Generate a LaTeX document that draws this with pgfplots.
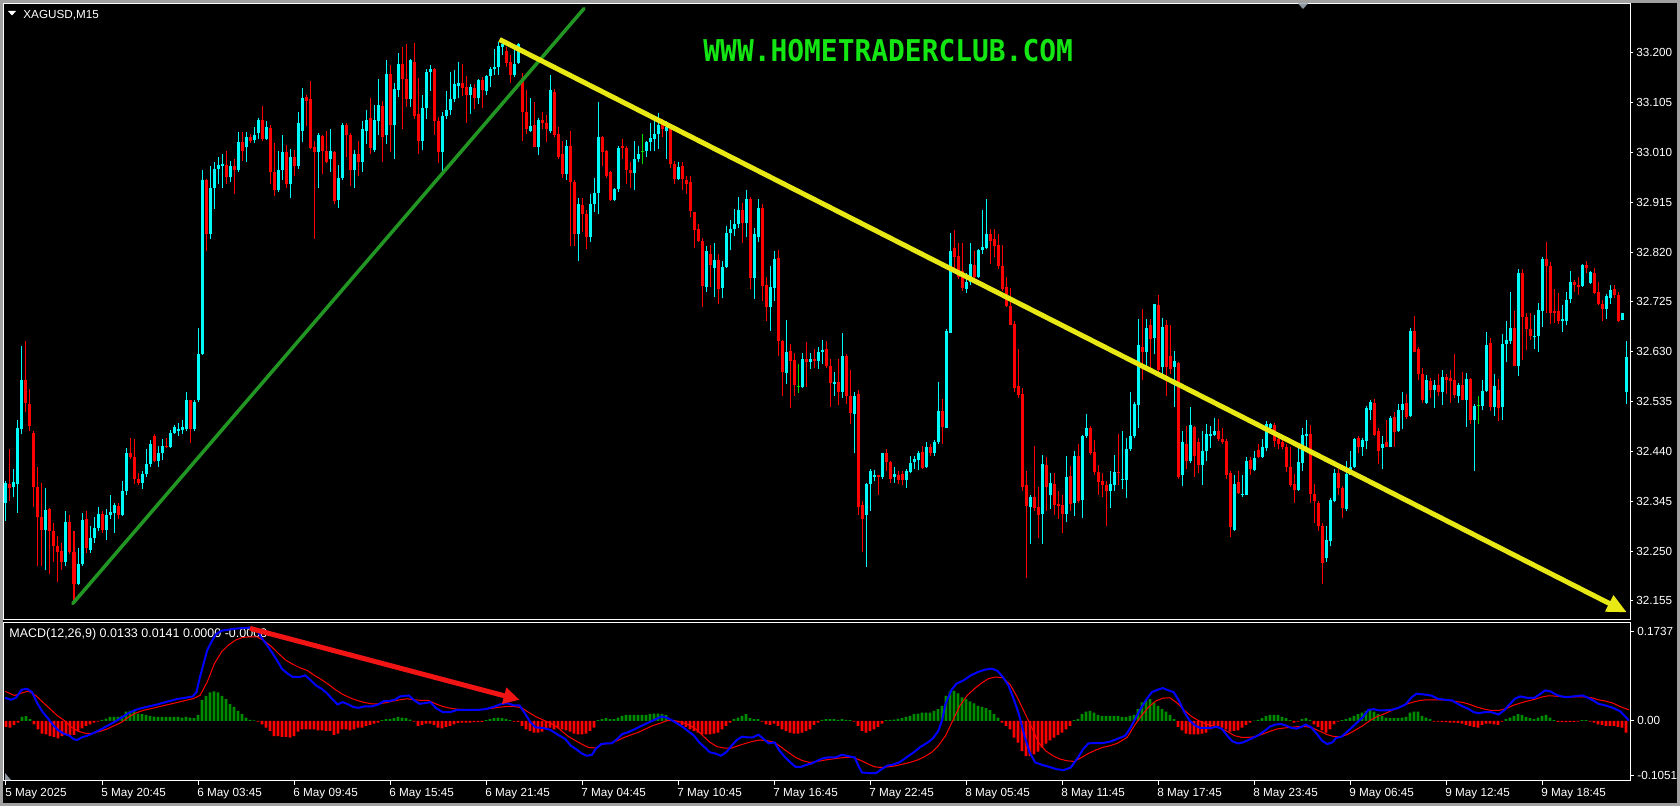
\documentclass[border=0pt]{standalone}
\usepackage{pgfplots}
\pgfplotsset{compat=1.18}
\usepackage{pgfplotstable}
\usepackage{fontspec}
\setmainfont{Liberation Sans}
\newfontfamily\wmfont{DejaVu Sans Mono}
\usetikzlibrary{arrows.meta}
\newlength\px \setlength\px{0.5pt}
\newcommand\lab{\fontsize{5.85pt}{7pt}\selectfont}
\newcommand\labm{\fontsize{6.25pt}{7pt}\selectfont}
\definecolor{cyc}{RGB}{0,250,250}
\definecolor{rdc}{RGB}{255,0,0}
\definecolor{dojic}{RGB}{0,220,0}
\definecolor{hgreen}{RGB}{0,140,0}
\definecolor{hred}{RGB}{255,0,0}
\definecolor{mblue}{RGB}{0,0,255}
\definecolor{sred}{RGB}{255,0,0}
\definecolor{tgreen}{RGB}{34,150,34}
\definecolor{yel}{RGB}{232,232,20}
\definecolor{arred}{RGB}{240,20,20}
\definecolor{wmgreen}{RGB}{20,230,20}
\definecolor{framegrey}{RGB}{160,160,160}
\definecolor{markgrey}{RGB}{140,150,160}

\pgfplotstableread{
i o h l c
0 32.342 32.383 32.308 32.380
1 32.378 32.444 32.346 32.370
2 32.373 32.406 32.353 32.381
3 32.378 32.500 32.323 32.484
4 32.482 32.640 32.474 32.576
5 32.576 32.650 32.515 32.532
6 32.530 32.559 32.478 32.489
7 32.475 32.478 32.334 32.373
8 32.373 32.410 32.221 32.315
9 32.315 32.380 32.221 32.290
10 32.290 32.370 32.214 32.328
11 32.330 32.332 32.206 32.289
12 32.289 32.304 32.229 32.260
13 32.260 32.278 32.191 32.249
14 32.251 32.266 32.214 32.230
15 32.230 32.327 32.221 32.306
16 32.306 32.319 32.244 32.249
17 32.249 32.289 32.153 32.187
18 32.187 32.255 32.185 32.225
19 32.225 32.323 32.222 32.309
20 32.312 32.327 32.247 32.255
21 32.252 32.297 32.247 32.275
22 32.275 32.315 32.266 32.294
23 32.293 32.334 32.289 32.321
24 32.321 32.327 32.285 32.290
25 32.290 32.330 32.272 32.319
26 32.319 32.357 32.312 32.325
27 32.323 32.342 32.285 32.338
28 32.336 32.342 32.312 32.319
29 32.318 32.383 32.316 32.364
30 32.364 32.447 32.357 32.436
31 32.436 32.466 32.425 32.429
32 32.429 32.464 32.378 32.387
33 32.387 32.398 32.376 32.380
34 32.380 32.402 32.368 32.396
35 32.396 32.444 32.391 32.416
36 32.416 32.462 32.410 32.455
37 32.470 32.474 32.419 32.421
38 32.421 32.451 32.410 32.436
39 32.436 32.464 32.424 32.451
40 32.451 32.466 32.447 32.449
41 32.448 32.481 32.446 32.475
42 32.475 32.491 32.474 32.487
43 32.478 32.494 32.470 32.483
44 32.480 32.499 32.474 32.487
45 32.482 32.553 32.478 32.538
46 32.537 32.538 32.456 32.482
47 32.482 32.537 32.479 32.534
48 32.537 32.675 32.535 32.626
49 32.626 32.976 32.624 32.958
50 32.958 32.960 32.821 32.855
51 32.855 32.983 32.844 32.942
52 32.942 32.992 32.902 32.979
53 32.979 33.002 32.949 32.985
54 32.983 33.007 32.942 32.987
55 32.985 33.013 32.949 32.962
56 32.962 32.994 32.953 32.983
57 32.983 32.998 32.930 32.976
58 32.977 33.048 32.972 33.030
59 33.030 33.048 32.994 33.013
60 33.021 33.048 32.992 33.040
61 33.040 33.045 33.027 33.031
62 33.034 33.059 33.028 33.043
63 33.047 33.075 33.036 33.071
64 33.071 33.098 33.032 33.036
65 33.036 33.070 33.034 33.059
66 33.057 33.062 32.949 32.972
67 32.972 33.028 32.927 32.938
68 32.938 33.013 32.934 32.977
69 32.977 33.043 32.957 33.011
70 33.011 33.024 32.942 32.949
71 32.949 33.017 32.923 33.002
72 33.002 33.015 32.964 32.983
73 32.983 33.087 32.979 33.065
74 33.051 33.133 33.030 33.113
75 33.115 33.120 33.060 33.108
76 33.111 33.145 33.017 33.019
77 33.021 33.032 32.844 33.010
78 33.010 33.047 32.942 33.043
79 33.042 33.043 32.968 33.012
80 33.013 33.051 32.989 32.992
81 32.997 33.055 32.972 33.013
82 33.010 33.013 32.912 32.917
83 32.919 32.985 32.904 32.961
84 32.961 33.065 32.957 33.063
85 33.063 33.066 33.002 33.043
86 33.043 33.047 32.946 32.976
87 32.976 33.015 32.942 33.007
88 33.007 33.032 32.964 32.991
89 32.991 33.070 32.972 33.055
90 33.051 33.090 33.025 33.072
91 33.075 33.113 33.006 33.019
92 33.015 33.100 33.010 33.072
93 33.070 33.149 33.043 33.100
94 33.098 33.108 32.991 33.040
95 33.043 33.185 33.025 33.160
96 33.160 33.176 33.010 33.063
97 33.063 33.142 32.998 33.130
98 33.128 33.200 33.115 33.178
99 33.179 33.211 33.055 33.149
100 33.149 33.217 33.096 33.112
101 33.112 33.188 33.096 33.185
102 33.182 33.219 33.074 33.080
103 33.083 33.151 33.006 33.031
104 33.031 33.119 33.015 33.095
105 33.095 33.168 33.074 33.164
106 33.163 33.176 33.127 33.168
107 33.168 33.170 33.043 33.070
108 33.070 33.078 32.989 33.010
109 33.010 33.087 32.968 33.080
110 33.080 33.127 33.074 33.090
111 33.090 33.164 33.081 33.112
112 33.112 33.166 33.106 33.140
113 33.136 33.183 33.113 33.142
114 33.142 33.179 33.118 33.133
115 33.135 33.155 33.065 33.119
116 33.119 33.140 33.083 33.134
117 33.133 33.140 33.093 33.113
118 33.113 33.149 33.102 33.148
119 33.148 33.153 33.095 33.128
120 33.126 33.158 33.120 33.155
121 33.155 33.173 33.134 33.168
122 33.168 33.206 33.158 33.172
123 33.173 33.221 33.158 33.212
124 33.211 33.225 33.196 33.216
125 33.204 33.211 33.173 33.181
126 33.183 33.196 33.143 33.158
127 33.158 33.206 33.153 33.179
128 33.181 33.219 33.179 33.216
129 33.151 33.161 33.032 33.087
130 33.087 33.128 33.044 33.055
131 33.051 33.113 33.048 33.060
132 33.062 33.106 33.021 33.021
133 33.021 33.075 33.004 33.072
134 33.072 33.087 33.055 33.065
135 33.065 33.081 33.030 33.055
136 33.051 33.158 33.047 33.128
137 33.125 33.130 33.040 33.043
138 33.045 33.059 32.998 33.002
139 33.007 33.032 32.961 32.968
140 32.968 33.034 32.957 33.022
141 33.022 33.051 32.832 32.953
142 32.953 32.957 32.832 32.855
143 32.855 32.923 32.802 32.911
144 32.909 32.923 32.859 32.893
145 32.893 32.900 32.826 32.848
146 32.849 32.930 32.840 32.911
147 32.911 32.961 32.896 32.932
148 32.932 33.106 32.893 33.040
149 33.040 33.041 32.983 33.010
150 33.013 33.015 32.961 32.965
151 32.972 32.974 32.917 32.919
152 32.919 32.942 32.917 32.940
153 32.940 33.022 32.934 33.019
154 33.022 33.036 32.998 33.019
155 33.019 33.022 32.949 32.977
156 32.977 32.992 32.942 32.970
157 32.970 33.032 32.938 32.998
158 32.998 33.022 32.991 33.007
159 33.012 33.045 32.987 33.012
160 33.012 33.032 33.002 33.030
161 33.030 33.066 33.013 33.038
162 33.036 33.074 33.012 33.044
163 33.044 33.085 33.017 33.063
164 33.065 33.074 33.040 33.055
165 33.050 33.070 32.998 33.059
166 33.055 33.062 32.980 32.987
167 32.987 32.994 32.949 32.959
168 32.959 32.991 32.957 32.982
169 32.983 32.992 32.938 32.959
170 32.957 32.964 32.930 32.949
171 32.953 32.964 32.887 32.899
172 32.897 32.897 32.828 32.862
173 32.864 32.874 32.840 32.841
174 32.841 32.847 32.715 32.755
175 32.753 32.832 32.743 32.821
176 32.817 32.834 32.753 32.796
177 32.790 32.838 32.734 32.804
178 32.804 32.817 32.721 32.749
179 32.751 32.802 32.733 32.791
180 32.791 32.870 32.789 32.857
181 32.857 32.881 32.823 32.864
182 32.864 32.902 32.851 32.874
183 32.874 32.925 32.866 32.900
184 32.900 32.914 32.838 32.876
185 32.876 32.938 32.848 32.921
186 32.921 32.925 32.749 32.771
187 32.771 32.866 32.731 32.854
188 32.849 32.921 32.840 32.904
189 32.904 32.912 32.727 32.755
190 32.758 32.772 32.689 32.715
191 32.715 32.793 32.670 32.753
192 32.751 32.821 32.727 32.806
193 32.808 32.823 32.621 32.651
194 32.650 32.653 32.546 32.592
195 32.590 32.691 32.568 32.630
196 32.632 32.644 32.523 32.612
197 32.614 32.627 32.546 32.567
198 32.564 32.606 32.552 32.564
199 32.562 32.627 32.561 32.617
200 32.617 32.648 32.562 32.610
201 32.610 32.627 32.597 32.617
202 32.617 32.636 32.599 32.612
203 32.612 32.638 32.597 32.630
204 32.630 32.653 32.606 32.633
205 32.636 32.650 32.599 32.602
206 32.602 32.617 32.524 32.570
207 32.568 32.591 32.546 32.572
208 32.572 32.617 32.529 32.553
209 32.553 32.666 32.542 32.621
210 32.621 32.625 32.531 32.546
211 32.546 32.595 32.493 32.514
212 32.512 32.553 32.436 32.546
213 32.549 32.557 32.319 32.334
214 32.338 32.346 32.248 32.312
215 32.319 32.380 32.220 32.378
216 32.378 32.406 32.327 32.402
217 32.391 32.404 32.383 32.395
218 32.395 32.395 32.357 32.391
219 32.391 32.436 32.388 32.436
220 32.436 32.444 32.402 32.419
221 32.419 32.421 32.380 32.387
222 32.391 32.410 32.380 32.396
223 32.395 32.402 32.378 32.386
224 32.396 32.402 32.376 32.386
225 32.386 32.406 32.370 32.402
226 32.401 32.432 32.398 32.418
227 32.419 32.432 32.406 32.426
228 32.424 32.441 32.404 32.436
229 32.438 32.451 32.406 32.408
230 32.410 32.457 32.408 32.449
231 32.449 32.455 32.431 32.436
232 32.436 32.461 32.431 32.457
233 32.457 32.572 32.455 32.517
234 32.517 32.540 32.454 32.487
235 32.485 32.674 32.485 32.670
236 32.666 32.856 32.666 32.821
237 32.828 32.861 32.780 32.811
238 32.813 32.838 32.768 32.772
239 32.783 32.838 32.745 32.751
240 32.749 32.780 32.742 32.763
241 32.763 32.838 32.757 32.798
242 32.796 32.821 32.768 32.772
243 32.772 32.825 32.771 32.823
244 32.823 32.900 32.817 32.829
245 32.827 32.921 32.825 32.855
246 32.855 32.864 32.798 32.841
247 32.844 32.864 32.810 32.832
248 32.834 32.855 32.787 32.793
249 32.793 32.834 32.746 32.749
250 32.753 32.772 32.715 32.718
251 32.718 32.751 32.680 32.681
252 32.683 32.688 32.553 32.561
253 32.564 32.636 32.542 32.547
254 32.549 32.561 32.365 32.372
255 32.376 32.402 32.199 32.336
256 32.334 32.357 32.263 32.353
257 32.353 32.451 32.327 32.333
258 32.334 32.372 32.274 32.319
259 32.321 32.434 32.263 32.416
260 32.414 32.429 32.327 32.372
261 32.356 32.399 32.331 32.380
262 32.378 32.399 32.319 32.338
263 32.340 32.364 32.312 32.336
264 32.338 32.357 32.285 32.321
265 32.321 32.432 32.306 32.391
266 32.393 32.413 32.327 32.340
267 32.342 32.441 32.316 32.431
268 32.431 32.455 32.342 32.346
269 32.348 32.472 32.313 32.470
270 32.470 32.512 32.466 32.484
271 32.484 32.489 32.434 32.436
272 32.438 32.461 32.395 32.401
273 32.401 32.414 32.357 32.381
274 32.383 32.398 32.353 32.376
275 32.376 32.383 32.297 32.364
276 32.364 32.402 32.333 32.378
277 32.376 32.434 32.364 32.401
278 32.401 32.474 32.376 32.399
279 32.386 32.478 32.368 32.388
280 32.386 32.466 32.351 32.444
281 32.444 32.553 32.440 32.470
282 32.470 32.534 32.466 32.531
283 32.529 32.693 32.485 32.642
284 32.638 32.712 32.576 32.630
285 32.630 32.693 32.598 32.675
286 32.680 32.693 32.595 32.655
287 32.657 32.721 32.625 32.721
288 32.719 32.738 32.591 32.595
289 32.600 32.695 32.587 32.678
290 32.681 32.690 32.546 32.600
291 32.622 32.681 32.587 32.597
292 32.600 32.632 32.524 32.612
293 32.608 32.610 32.387 32.391
294 32.395 32.479 32.374 32.457
295 32.455 32.489 32.406 32.421
296 32.421 32.525 32.417 32.491
297 32.487 32.489 32.391 32.431
298 32.457 32.466 32.399 32.414
299 32.414 32.478 32.376 32.440
300 32.440 32.493 32.421 32.474
301 32.470 32.489 32.447 32.474
302 32.472 32.504 32.470 32.478
303 32.478 32.502 32.459 32.463
304 32.464 32.485 32.455 32.457
305 32.459 32.464 32.387 32.395
306 32.399 32.402 32.276 32.295
307 32.291 32.395 32.289 32.378
308 32.381 32.402 32.359 32.361
309 32.356 32.395 32.353 32.359
310 32.357 32.429 32.356 32.421
311 32.424 32.429 32.395 32.406
312 32.404 32.440 32.402 32.427
313 32.442 32.454 32.427 32.429
314 32.429 32.464 32.427 32.449
315 32.447 32.497 32.440 32.493
316 32.485 32.494 32.478 32.493
317 32.491 32.494 32.449 32.459
318 32.464 32.470 32.444 32.455
319 32.457 32.466 32.444 32.448
320 32.448 32.454 32.401 32.410
321 32.411 32.449 32.372 32.376
322 32.378 32.396 32.342 32.366
323 32.366 32.447 32.365 32.419
324 32.417 32.485 32.402 32.472
325 32.469 32.500 32.447 32.474
326 32.474 32.491 32.342 32.358
327 32.358 32.378 32.303 32.346
328 32.342 32.346 32.289 32.297
329 32.297 32.304 32.187 32.227
330 32.236 32.297 32.230 32.272
331 32.270 32.351 32.260 32.348
332 32.346 32.406 32.344 32.399
333 32.398 32.406 32.357 32.371
334 32.371 32.374 32.313 32.333
335 32.331 32.421 32.327 32.396
336 32.395 32.440 32.395 32.410
337 32.410 32.466 32.408 32.463
338 32.466 32.469 32.436 32.449
339 32.449 32.466 32.432 32.461
340 32.459 32.527 32.444 32.523
341 32.519 32.537 32.500 32.534
342 32.532 32.540 32.470 32.472
343 32.479 32.485 32.416 32.440
344 32.446 32.470 32.406 32.454
345 32.457 32.499 32.448 32.448
346 32.448 32.508 32.448 32.504
347 32.506 32.515 32.448 32.476
348 32.478 32.531 32.476 32.519
349 32.519 32.553 32.482 32.531
350 32.532 32.550 32.502 32.506
351 32.508 32.675 32.506 32.670
352 32.670 32.698 32.629 32.630
353 32.635 32.638 32.576 32.587
354 32.587 32.598 32.532 32.537
355 32.532 32.585 32.531 32.576
356 32.574 32.580 32.542 32.557
357 32.557 32.576 32.523 32.567
358 32.567 32.587 32.546 32.553
359 32.553 32.595 32.529 32.582
360 32.582 32.587 32.549 32.576
361 32.580 32.595 32.532 32.574
362 32.576 32.625 32.542 32.547
363 32.546 32.570 32.532 32.567
364 32.567 32.591 32.537 32.538
365 32.538 32.589 32.487 32.577
366 32.577 32.580 32.493 32.499
367 32.499 32.531 32.402 32.527
368 32.528 32.546 32.493 32.528
369 32.527 32.576 32.519 32.555
370 32.555 32.668 32.553 32.642
371 32.647 32.657 32.517 32.525
372 32.525 32.587 32.508 32.565
373 32.557 32.577 32.497 32.523
374 32.525 32.663 32.500 32.645
375 32.644 32.688 32.610 32.653
376 32.651 32.743 32.644 32.675
377 32.675 32.708 32.602 32.602
378 32.602 32.787 32.583 32.780
379 32.780 32.787 32.614 32.697
380 32.697 32.704 32.633 32.674
381 32.674 32.704 32.653 32.659
382 32.659 32.700 32.636 32.660
383 32.659 32.723 32.629 32.710
384 32.708 32.811 32.678 32.806
385 32.806 32.839 32.704 32.793
386 32.793 32.800 32.683 32.704
387 32.708 32.749 32.685 32.704
388 32.708 32.742 32.683 32.688
389 32.688 32.719 32.668 32.693
390 32.689 32.743 32.680 32.728
391 32.730 32.783 32.723 32.763
392 32.763 32.766 32.743 32.757
393 32.758 32.772 32.738 32.753
394 32.755 32.798 32.753 32.796
395 32.796 32.802 32.780 32.789
396 32.761 32.783 32.759 32.781
397 32.780 32.789 32.740 32.742
398 32.743 32.763 32.719 32.721
399 32.721 32.728 32.688 32.712
400 32.712 32.740 32.693 32.736
401 32.733 32.757 32.721 32.748
402 32.749 32.757 32.733 32.738
403 32.738 32.743 32.687 32.689
404 32.691 32.704 32.691 32.703
405 32.553 32.650 32.530 32.620
}\candles

\pgfplotstableread[row sep=\\]{
i v\\ 0 -0.0117\\ 1 -0.0130\\ 2 -0.0078\\ 3 -0.0033\\ 4 0.0078\\ 5 0.0091\\ 6 0.0033\\ 7 -0.0065\\ 8 -0.0163\\ 9 -0.0247\\
10 -0.0260\\ 11 -0.0293\\ 12 -0.0312\\ 13 -0.0338\\ 14 -0.0293\\ 15 -0.0260\\ 16 -0.0273\\ 17 -0.0273\\ 18 -0.0195\\ 19 -0.0143\\
20 -0.0098\\ 21 -0.0065\\ 22 -0.0033\\ 23 -0.0013\\ 24 0.0020\\ 25 0.0046\\ 26 0.0078\\ 27 0.0078\\ 28 0.0078\\ 29 0.0098\\
30 0.0182\\ 31 0.0195\\ 32 0.0195\\ 33 0.0143\\ 34 0.0130\\ 35 0.0117\\ 36 0.0098\\ 37 0.0085\\ 38 0.0078\\ 39 0.0078\\
40 0.0078\\ 41 0.0078\\ 42 0.0078\\ 43 0.0078\\ 44 0.0065\\ 45 0.0078\\ 46 0.0065\\ 47 0.0052\\ 48 0.0117\\ 49 0.0403\\
50 0.0488\\ 51 0.0553\\ 52 0.0572\\ 53 0.0553\\ 54 0.0488\\ 55 0.0423\\ 56 0.0325\\ 57 0.0273\\ 58 0.0195\\ 59 0.0130\\
60 0.0065\\ 61 0.0020\\ 62 0.0008\\ 63 -0.0013\\ 64 -0.0065\\ 65 -0.0130\\ 66 -0.0195\\ 67 -0.0293\\ 68 -0.0293\\ 69 -0.0312\\
70 -0.0312\\ 71 -0.0325\\ 72 -0.0293\\ 73 -0.0208\\ 74 -0.0163\\ 75 -0.0163\\ 76 -0.0163\\ 77 -0.0163\\ 78 -0.0182\\ 79 -0.0182\\
80 -0.0195\\ 81 -0.0195\\ 82 -0.0273\\ 83 -0.0247\\ 84 -0.0163\\ 85 -0.0163\\ 86 -0.0182\\ 87 -0.0163\\ 88 -0.0130\\ 89 -0.0130\\
90 -0.0098\\ 91 -0.0078\\ 92 -0.0052\\ 93 -0.0033\\ 94 0.0013\\ 95 0.0033\\ 96 0.0039\\ 97 0.0052\\ 98 0.0078\\ 99 0.0065\\
100 0.0052\\ 101 0.0026\\ 102 -0.0013\\ 103 -0.0098\\ 104 -0.0078\\ 105 -0.0052\\ 106 -0.0052\\ 107 -0.0078\\ 108 -0.0130\\ 109 -0.0143\\
110 -0.0117\\ 111 -0.0098\\ 112 -0.0065\\ 113 -0.0039\\ 114 -0.0033\\ 115 -0.0033\\ 116 -0.0033\\ 117 -0.0026\\ 118 -0.0026\\ 119 -0.0020\\
120 0.0013\\ 121 0.0033\\ 122 0.0052\\ 123 0.0065\\ 124 0.0052\\ 125 0.0039\\ 126 0.0013\\ 127 -0.0013\\ 128 -0.0020\\ 129 -0.0098\\
130 -0.0163\\ 131 -0.0195\\ 132 -0.0228\\ 133 -0.0228\\ 134 -0.0208\\ 135 -0.0163\\ 136 -0.0130\\ 137 -0.0163\\ 138 -0.0143\\ 139 -0.0163\\
140 -0.0182\\ 141 -0.0208\\ 142 -0.0247\\ 143 -0.0260\\ 144 -0.0260\\ 145 -0.0247\\ 146 -0.0195\\ 147 -0.0130\\ 148 0.0013\\ 149 0.0033\\
150 0.0052\\ 151 0.0033\\ 152 0.0033\\ 153 0.0065\\ 154 0.0098\\ 155 0.0117\\ 156 0.0117\\ 157 0.0117\\ 158 0.0117\\ 159 0.0117\\
160 0.0117\\ 161 0.0130\\ 162 0.0143\\ 163 0.0143\\ 164 0.0130\\ 165 0.0117\\ 166 0.0033\\ 167 -0.0013\\ 168 -0.0033\\ 169 -0.0078\\
170 -0.0117\\ 171 -0.0163\\ 172 -0.0195\\ 173 -0.0228\\ 174 -0.0260\\ 175 -0.0260\\ 176 -0.0260\\ 177 -0.0247\\ 178 -0.0228\\ 179 -0.0163\\
180 -0.0098\\ 181 -0.0033\\ 182 0.0033\\ 183 0.0065\\ 184 0.0098\\ 185 0.0130\\ 186 0.0052\\ 187 0.0033\\ 188 0.0033\\ 189 -0.0013\\
190 -0.0065\\ 191 -0.0078\\ 192 -0.0052\\ 193 -0.0098\\ 194 -0.0163\\ 195 -0.0195\\ 196 -0.0228\\ 197 -0.0247\\ 198 -0.0247\\ 199 -0.0228\\
200 -0.0195\\ 201 -0.0163\\ 202 -0.0078\\ 203 -0.0033\\ 204 0.0020\\ 205 0.0033\\ 206 0.0033\\ 207 0.0033\\ 208 0.0020\\ 209 0.0033\\
210 0.0020\\ 211 0.0013\\ 212 -0.0013\\ 213 -0.0098\\ 214 -0.0195\\ 215 -0.0228\\ 216 -0.0195\\ 217 -0.0163\\ 218 -0.0117\\ 219 -0.0052\\
220 0.0013\\ 221 0.0020\\ 222 0.0026\\ 223 0.0039\\ 224 0.0052\\ 225 0.0078\\ 226 0.0098\\ 227 0.0130\\ 228 0.0143\\ 229 0.0163\\
230 0.0163\\ 231 0.0163\\ 232 0.0195\\ 233 0.0228\\ 234 0.0293\\ 235 0.0488\\ 236 0.0572\\ 237 0.0585\\ 238 0.0533\\ 239 0.0455\\
240 0.0423\\ 241 0.0377\\ 242 0.0338\\ 243 0.0293\\ 244 0.0273\\ 245 0.0247\\ 246 0.0208\\ 247 0.0130\\ 248 0.0065\\ 249 -0.0033\\
250 -0.0098\\ 251 -0.0163\\ 252 -0.0325\\ 253 -0.0423\\ 254 -0.0585\\ 255 -0.0683\\ 256 -0.0683\\ 257 -0.0650\\ 258 -0.0598\\ 259 -0.0520\\
260 -0.0442\\ 261 -0.0377\\ 262 -0.0325\\ 263 -0.0273\\ 264 -0.0228\\ 265 -0.0163\\ 266 -0.0098\\ 267 0.0013\\ 268 0.0033\\ 269 0.0130\\
270 0.0182\\ 271 0.0195\\ 272 0.0163\\ 273 0.0117\\ 274 0.0098\\ 275 0.0098\\ 276 0.0098\\ 277 0.0098\\ 278 0.0098\\ 279 0.0078\\
280 0.0078\\ 281 0.0098\\ 282 0.0117\\ 283 0.0228\\ 284 0.0358\\ 285 0.0403\\ 286 0.0423\\ 287 0.0358\\ 288 0.0293\\ 289 0.0228\\
290 0.0182\\ 291 0.0117\\ 292 0.0033\\ 293 -0.0117\\ 294 -0.0182\\ 295 -0.0247\\ 296 -0.0260\\ 297 -0.0260\\ 298 -0.0260\\ 299 -0.0247\\
300 -0.0228\\ 301 -0.0163\\ 302 -0.0098\\ 303 -0.0098\\ 304 -0.0130\\ 305 -0.0163\\ 306 -0.0208\\ 307 -0.0195\\ 308 -0.0182\\ 309 -0.0130\\
310 -0.0078\\ 311 -0.0033\\ 312 0.0007\\ 313 0.0020\\ 314 0.0052\\ 315 0.0098\\ 316 0.0117\\ 317 0.0117\\ 318 0.0117\\ 319 0.0078\\
320 0.0052\\ 321 0.0013\\ 322 -0.0033\\ 323 -0.0013\\ 324 0.0033\\ 325 0.0052\\ 326 0.0020\\ 327 -0.0065\\ 328 -0.0117\\ 329 -0.0182\\
330 -0.0228\\ 331 -0.0163\\ 332 -0.0065\\ 333 -0.0013\\ 334 0.0013\\ 335 0.0033\\ 336 0.0065\\ 337 0.0098\\ 338 0.0130\\ 339 0.0163\\
340 0.0195\\ 341 0.0208\\ 342 0.0182\\ 343 0.0130\\ 344 0.0098\\ 345 0.0065\\ 346 0.0052\\ 347 0.0052\\ 348 0.0052\\ 349 0.0065\\
350 0.0078\\ 351 0.0163\\ 352 0.0182\\ 353 0.0182\\ 354 0.0098\\ 355 0.0065\\ 356 0.0033\\ 357 -0.0013\\ 358 -0.0013\\ 359 -0.0026\\
360 -0.0026\\ 361 -0.0033\\ 362 -0.0033\\ 363 -0.0039\\ 364 -0.0052\\ 365 -0.0078\\ 366 -0.0098\\ 367 -0.0117\\ 368 -0.0130\\ 369 -0.0078\\
370 -0.0052\\ 371 -0.0052\\ 372 -0.0065\\ 373 -0.0078\\ 374 -0.0013\\ 375 0.0033\\ 376 0.0065\\ 377 0.0098\\ 378 0.0130\\ 379 0.0117\\
380 0.0078\\ 381 0.0052\\ 382 0.0033\\ 383 0.0065\\ 384 0.0098\\ 385 0.0117\\ 386 0.0065\\ 387 0.0013\\ 388 -0.0020\\ 389 -0.0026\\
390 -0.0026\\ 391 -0.0020\\ 392 -0.0020\\ 393 -0.0013\\ 394 0.0013\\ 395 0.0013\\ 396 -0.0013\\ 397 -0.0033\\ 398 -0.0065\\ 399 -0.0078\\
400 -0.0098\\ 401 -0.0098\\ 402 -0.0098\\ 403 -0.0117\\ 404 -0.0130\\ 405 -0.0228\\
}\hist

\begin{document}
\begin{tikzpicture}
\useasboundingbox (0,0) rectangle (1680\px,-806\px);
\begin{scope}[x=\px,y=-\px]
\fill[black] (0,0) rectangle (1680,806);
\draw[framegrey, line width=2.6\px] (1.3,1.3) rectangle (1678.7,804.7);
\fill[white] (8,11) -- (16,11) -- (12,15.5) -- cycle;
\node[anchor=base west, inner sep=0pt, text=white, font=\lab] at (23,19) {XAGUSD,M15};
\node[anchor=west, inner sep=0pt, text=wmgreen] at (703,51) {\scalebox{0.93}[1]{\wmfont\bfseries\fontsize{15pt}{15pt}\selectfont WWW.HOMETRADERCLUB.COM}};
\node[anchor=base west, inner sep=0pt, text=white, font=\labm] at (9,637.5) {MACD(12,26,9) 0.0133 0.0141 0.0000 -0.0008};
\end{scope}

% ---------------- main price panel ----------------
\begin{axis}[
  at={(4\px,-4\px)}, anchor=north west,
  scale only axis, width=1626\px, height=615\px,
  xmin=-0.5, xmax=406, ymin=32.1205, ymax=33.2927,
  axis line style={draw=white, line width=1\px},
  xtick=\empty,
  ytick={33.200,33.105,33.010,32.915,32.820,32.725,32.630,32.535,32.440,32.345,32.250,32.155},
  yticklabels={33.200,33.105,33.010,32.915,32.820,32.725,32.630,32.535,32.440,32.345,32.250,32.155},
  ytick pos=right, yticklabel pos=right, tick align=outside,
  major tick length=3\px, major tick style={draw=white, line width=1\px},
  yticklabel style={font=\lab, text=white, anchor=west, inner sep=0pt, xshift=3\px},
  clip=false,
]
% wicks
\addplot[draw=none, forget plot, restrict expr to domain={\thisrow{c}-\thisrow{o}}{0.00001:5},
  error bars/.cd, y dir=plus, y explicit, error mark=none,
  error bar style={draw=cyc, line width=0.5pt}]
  table[x=i, y=l, y error plus expr={\thisrow{h}-\thisrow{l}}] {\candles};
\addplot[draw=none, forget plot, restrict expr to domain={\thisrow{c}-\thisrow{o}}{-5:-0.00001},
  error bars/.cd, y dir=plus, y explicit, error mark=none,
  error bar style={draw=rdc, line width=0.5pt}]
  table[x=i, y=l, y error plus expr={\thisrow{h}-\thisrow{l}}] {\candles};
\addplot[draw=none, forget plot, restrict expr to domain={\thisrow{c}-\thisrow{o}}{-0.000005:0.000005},
  error bars/.cd, y dir=plus, y explicit, error mark=none,
  error bar style={draw=dojic, line width=0.5pt}]
  table[x=i, y=l, y error plus expr={\thisrow{h}-\thisrow{l}}] {\candles};
% bodies
\addplot[draw=none, forget plot, restrict expr to domain={\thisrow{c}-\thisrow{o}}{0.00001:5},
  error bars/.cd, y dir=plus, y explicit, error mark=none,
  error bar style={draw=cyc, line width=1.5pt}]
  table[x=i, y=o, y error plus expr={\thisrow{c}-\thisrow{o}}] {\candles};
\addplot[draw=none, forget plot, restrict expr to domain={\thisrow{c}-\thisrow{o}}{-5:-0.00001},
  error bars/.cd, y dir=plus, y explicit, error mark=none,
  error bar style={draw=rdc, line width=1.5pt}]
  table[x=i, y=c, y error plus expr={\thisrow{o}-\thisrow{c}}] {\candles};
\addplot[only marks, mark=-, mark size=0.75pt, mark options={draw=dojic, line width=0.5pt}, forget plot,
  restrict expr to domain={\thisrow{c}-\thisrow{o}}{-0.000005:0.000005}]
  table[x=i, y=c] {\candles};
% trend lines
\addplot[draw=tgreen, line width=1.75pt, line cap=round] coordinates {(16.7,32.150) (144.5,33.284)};
\addplot[draw=yel, line width=2.5pt, -{Triangle[length=10pt,width=8.5pt]}] coordinates {(123.4,33.225) (405.25,32.133)};
\end{axis}

% ---------------- MACD panel ----------------
\begin{axis}[
  at={(4\px,-622\px)}, anchor=north west,
  scale only axis, width=1626\px, height=159\px,
  xmin=-0.5, xmax=406, ymin=-0.1166, ymax=0.1919,
  axis line style={draw=white, line width=1\px},
  xtick={0,24,...,384},
  xticklabels={5 May 2025,5 May 20:45,6 May 03:45,6 May 09:45,6 May 15:45,6 May 21:45,7 May 04:45,7 May 10:45,7 May 16:45,7 May 22:45,8 May 05:45,8 May 11:45,8 May 17:45,8 May 23:45,9 May 06:45,9 May 12:45,9 May 18:45},
  ytick={-0.1051,0,0.1737},
  yticklabels={-0.1051,0.00,0.1737},
  xtick pos=left, ytick pos=right, yticklabel pos=right, tick align=outside,
  major tick length=4\px, major tick style={draw=white, line width=1\px},
  xticklabel style={font=\lab, text=white, anchor=base west, inner sep=0pt, xshift=-1\px, yshift=-12\px},
  yticklabel style={font=\lab, text=white, anchor=west, inner sep=0pt, xshift=3\px},
]
\addplot[ybar, bar width=1.45pt, bar shift=0pt, draw=none, fill=hgreen, forget plot,
  restrict y to domain=0.00001:1] table[x=i, y=v] {\hist};
\addplot[ybar, bar width=1.45pt, bar shift=0pt, draw=none, fill=hred, forget plot,
  restrict y to domain=-1:-0.00001] table[x=i, y=v] {\hist};
% signal line
\addplot[draw=sred, line width=0.5pt] coordinates {
(-0.2,0.0572) (2.1,0.0494) (3.9,0.0540) (5.6,0.0579) (7.4,0.0494) (9.2,0.0364) (11.0,0.0234) (12.8,0.0104) (14.6,0.0007) (16.4,-0.0124) (18.1,-0.0202) (19.9,-0.0241) (21.7,-0.0241) (23.5,-0.0202) (25.3,-0.0156) (27.1,-0.0091) (28.9,-0.0026) (30.6,0.0072) (32.4,0.0150) (34.2,0.0202) (36.0,0.0234) (37.8,0.0267) (39.6,0.0299) (41.4,0.0332) (43.1,0.0364) (44.9,0.0397) (46.7,0.0429) (48.5,0.0494) (50.3,0.0754) (52.1,0.1110) (53.9,0.1340) (55.6,0.1470) (57.4,0.1570) (59.2,0.1620) (61.0,0.1630) (62.8,0.1630) (64.6,0.1550) (66.4,0.1440) (68.1,0.1310) (69.9,0.1180) (71.7,0.1100) (73.5,0.1030) (75.3,0.0980) (77.1,0.0884) (78.9,0.0800) (80.6,0.0709) (82.4,0.0605) (84.2,0.0514) (86.0,0.0449) (87.8,0.0397) (89.6,0.0358) (91.4,0.0332) (93.1,0.0332) (94.9,0.0351) (96.7,0.0384) (98.5,0.0410) (100.3,0.0429) (102.1,0.0410) (103.9,0.0397) (105.6,0.0397) (107.4,0.0332) (109.2,0.0280) (111.0,0.0247) (112.8,0.0228) (114.6,0.0221) (118.1,0.0215) (119.9,0.0228) (121.7,0.0247) (123.5,0.0267) (125.3,0.0280) (127.1,0.0280) (128.9,0.0254) (130.6,0.0169) (132.4,0.0085) (134.2,0.0020) (136.0,-0.0040) (137.8,-0.0120)
(140.3,-0.0286) (142.1,-0.0371) (143.9,-0.0449) (145.6,-0.0514) (147.4,-0.0527) (149.2,-0.0449) (151.0,-0.0436) (152.8,-0.0384) (154.6,-0.0319) (156.4,-0.0267) (158.1,-0.0221) (159.9,-0.0156) (161.7,-0.0091) (163.5,-0.0046) (165.3,0.0007) (167.1,0.0007) (168.9,-0.0026) (170.6,-0.0072) (172.4,-0.0156) (174.2,-0.0286) (176.0,-0.0416) (177.8,-0.0500) (179.6,-0.0527) (181.4,-0.0527) (183.1,-0.0481) (184.9,-0.0436) (186.7,-0.0397) (188.5,-0.0371) (190.3,-0.0384) (192.1,-0.0416) (193.9,-0.0514) (195.6,-0.0611) (197.4,-0.0709) (199.2,-0.0774) (201.0,-0.0806) (202.8,-0.0787) (204.6,-0.0761) (206.4,-0.0741) (208.1,-0.0722) (209.9,-0.0709) (211.7,-0.0709) (213.5,-0.0761) (215.3,-0.0826) (217.1,-0.0891) (218.9,-0.0904) (220.6,-0.0891) (222.4,-0.0871) (224.2,-0.0839) (226.0,-0.0806) (227.8,-0.0761) (229.6,-0.0696) (231.4,-0.0611) (233.1,-0.0481) (234.9,-0.0286) (236.7,0.0007) (238.5,0.0299) (240.3,0.0494) (242.1,0.0624) (243.9,0.0735) (245.6,0.0819) (247.4,0.0852) (249.2,0.0839) (251.0,0.0709) (252.8,0.0462) (254.6,0.0169) (256.4,-0.0124) (258.1,-0.0416) (259.9,-0.0579) (261.7,-0.0676) (263.5,-0.0741) (265.3,-0.0774) (267.1,-0.0787) (268.9,-0.0709) (270.6,-0.0631) (272.4,-0.0566) (274.2,-0.0514) (276.0,-0.0481) (277.8,-0.0436)
(280.3,-0.0319) (282.1,-0.0091) (283.9,0.0104) (285.6,0.0267) (287.4,0.0384) (289.2,0.0442) (291.0,0.0449) (292.8,0.0345) (294.6,0.0202) (296.4,0.0085) (298.1,0.0007) (299.9,-0.0059) (301.7,-0.0098) (303.5,-0.0137) (305.3,-0.0202) (307.1,-0.0286) (308.9,-0.0319) (310.6,-0.0319) (312.4,-0.0306) (314.2,-0.0254) (316.0,-0.0202) (317.8,-0.0156) (319.6,-0.0137) (321.4,-0.0124) (323.1,-0.0110) (324.9,-0.0110) (326.7,-0.0137) (328.5,-0.0202) (330.3,-0.0267) (332.1,-0.0306) (333.9,-0.0306) (335.6,-0.0254) (337.4,-0.0176) (339.2,-0.0091) (341.0,0.0007) (342.8,0.0085) (344.6,0.0137) (346.4,0.0202) (348.1,0.0254) (349.9,0.0319) (351.7,0.0364) (353.5,0.0397) (355.3,0.0410) (358.9,0.0410) (360.6,0.0397) (362.4,0.0377) (364.2,0.0358) (366.0,0.0319) (367.8,0.0267) (369.6,0.0228) (371.4,0.0202) (373.1,0.0202) (374.9,0.0234) (376.7,0.0299) (378.5,0.0345) (380.3,0.0384) (382.1,0.0416) (383.9,0.0462) (385.6,0.0488) (387.4,0.0481) (389.2,0.0468) (394.6,0.0468) (396.4,0.0449) (398.1,0.0410) (399.9,0.0384) (401.7,0.0345) (403.5,0.0280) (405.7,0.0215)
};
% MACD main line
\addplot[draw=mblue, line width=1pt] coordinates {
(-0.2,0.0449) (1.2,0.0410) (2.5,0.0449) (3.9,0.0605) (5.2,0.0624) (6.5,0.0559) (7.9,0.0332) (9.2,0.0169) (10.6,0.0039) (11.9,-0.0091) (13.2,-0.0189) (14.6,-0.0254) (15.9,-0.0286) (16.8,-0.0351) (17.7,-0.0371) (19.0,-0.0319) (20.4,-0.0286) (21.7,-0.0241) (23.1,-0.0189) (24.4,-0.0137) (26.2,-0.0059) (28.0,0.0020) (29.3,0.0085) (30.6,0.0150) (32.4,0.0215) (34.2,0.0254) (36.0,0.0286) (37.8,0.0319) (39.6,0.0358) (41.4,0.0397) (43.1,0.0429) (44.9,0.0449) (46.7,0.0475) (47.6,0.0559) (48.5,0.0852) (49.4,0.1110) (50.3,0.1370) (51.6,0.1570) (52.5,0.1680) (53.9,0.1750) (55.6,0.1770) (57.4,0.1790) (61.0,0.1810) (62.8,0.1760) (63.7,0.1630) (65.0,0.1500) (66.4,0.1340) (67.7,0.1180) (69.0,0.1010) (70.4,0.0917) (71.7,0.0852) (73.5,0.0852) (74.8,0.0884) (76.2,0.0787) (77.5,0.0689) (78.9,0.0624) (80.2,0.0540) (81.5,0.0429) (82.9,0.0319) (84.2,0.0364) (85.6,0.0319) (86.9,0.0267) (88.2,0.0254) (89.6,0.0280) (91.4,0.0280) (93.1,0.0319) (94.5,0.0384) (95.8,0.0384) (97.2,0.0410) (98.5,0.0475) (100.7,0.0494) (102.1,0.0397) (103.4,0.0332) (104.8,0.0345) (106.1,0.0364) (107.4,0.0254) (109.2,0.0169) (111.0,0.0169) (112.8,0.0215) (118.1,0.0215) (119.9,0.0228) (121.7,0.0267) (123.5,0.0319) (125.3,0.0345) (127.1,0.0299) (128.4,0.0299) (129.8,0.0137) (131.1,-0.0026) (132.4,-0.0124) (134.2,-0.0137) (136.0,-0.0170) (137.8,-0.0260)
(139.8,-0.0351) (141.2,-0.0481) (142.5,-0.0546) (143.9,-0.0631) (145.2,-0.0676) (146.5,-0.0657) (147.4,-0.0546) (148.8,-0.0449) (150.1,-0.0436) (151.4,-0.0436) (152.8,-0.0351) (154.1,-0.0254) (155.5,-0.0221) (157.3,-0.0156) (159.0,-0.0091) (160.8,-0.0026) (162.6,0.0039) (163.9,0.0085) (165.3,0.0059) (166.6,0.0007) (168.0,-0.0059) (169.3,-0.0124) (170.6,-0.0202) (172.0,-0.0286) (173.3,-0.0416) (174.7,-0.0514) (176.0,-0.0611) (177.3,-0.0631) (178.7,-0.0676) (180.0,-0.0611) (181.4,-0.0481) (182.7,-0.0371) (184.0,-0.0306) (185.4,-0.0319) (186.7,-0.0319) (188.1,-0.0267) (189.4,-0.0351) (190.7,-0.0436) (192.1,-0.0416) (193.4,-0.0579) (194.8,-0.0709) (196.1,-0.0806) (197.4,-0.0891) (198.8,-0.0891) (200.1,-0.0852) (201.4,-0.0826) (202.8,-0.0774) (204.1,-0.0728) (205.5,-0.0709) (207.3,-0.0709) (209.0,-0.0657) (210.8,-0.0689) (212.2,-0.0709) (213.1,-0.0871) (214.0,-0.1001) (216.2,-0.1014) (217.5,-0.1014) (218.9,-0.0936) (220.2,-0.0871) (221.5,-0.0852) (223.3,-0.0806) (225.1,-0.0709) (226.9,-0.0611) (228.7,-0.0500) (230.5,-0.0416) (231.8,-0.0332) (233.1,-0.0189) (234.0,0.0007) (234.9,0.0332) (236.3,0.0592) (237.6,0.0722) (239.4,0.0787) (241.2,0.0884) (243.0,0.0949) (244.8,0.0995) (246.5,0.1014) (247.9,0.0969) (249.2,0.0852) (250.6,0.0689) (251.9,0.0429) (253.2,0.0137) (254.6,-0.0286) (255.9,-0.0611) (257.3,-0.0806) (259.0,-0.0852) (260.8,-0.0891) (262.6,-0.0936) (264.4,-0.0956) (266.2,-0.0904) (268.0,-0.0709) (269.3,-0.0546) (270.6,-0.0436) (272.4,-0.0429) (274.2,-0.0429) (276.0,-0.0403) (277.8,-0.0351)
(279.8,-0.0286) (281.2,-0.0124) (282.5,0.0072) (283.9,0.0267) (285.2,0.0429) (286.5,0.0559) (287.9,0.0605) (289.2,0.0637) (290.6,0.0592) (291.9,0.0559) (293.2,0.0397) (294.6,0.0169) (295.9,0.0007) (297.3,-0.0091) (298.6,-0.0137) (301.3,-0.0137) (302.6,-0.0110) (304.0,-0.0156) (305.3,-0.0286) (306.6,-0.0397) (308.0,-0.0436) (309.3,-0.0416) (310.6,-0.0371) (312.0,-0.0319) (313.3,-0.0267) (314.7,-0.0189) (316.0,-0.0110) (317.3,-0.0072) (318.7,-0.0059) (320.0,-0.0091) (321.4,-0.0137) (322.7,-0.0150) (324.0,-0.0110) (324.9,-0.0072) (326.3,-0.0124) (327.6,-0.0241) (329.0,-0.0384) (330.3,-0.0449) (331.6,-0.0416) (332.5,-0.0332) (333.9,-0.0306) (335.6,-0.0189) (337.4,-0.0059) (339.2,0.0072) (340.6,0.0215) (341.9,0.0228) (343.2,0.0202) (344.6,0.0202) (346.4,0.0215) (348.1,0.0254) (349.9,0.0319) (351.3,0.0449) (352.6,0.0527) (354.4,0.0514) (356.2,0.0494) (358.0,0.0429) (359.8,0.0410) (361.5,0.0397) (362.9,0.0332) (364.2,0.0280) (365.6,0.0234) (366.9,0.0169) (368.2,0.0150) (369.6,0.0169) (371.4,0.0169) (373.1,0.0124) (374.5,0.0202) (375.8,0.0312) (377.2,0.0429) (378.5,0.0475) (380.3,0.0449) (382.1,0.0449) (383.4,0.0514) (384.8,0.0592) (386.1,0.0572) (387.4,0.0514) (388.8,0.0475) (390.1,0.0462) (391.9,0.0475) (394.1,0.0494) (395.5,0.0449) (396.8,0.0397) (398.1,0.0332) (399.9,0.0299) (401.7,0.0254) (403.5,0.0189) (404.8,0.0085) (405.7,0.0007)
};
\addplot[draw=arred, line width=2.5pt, -{Triangle[length=8pt,width=8pt]}] coordinates {(61,0.1795) (128.4,0.0409)};
\end{axis}

\begin{scope}[x=\px,y=-\px]
\fill[markgrey] (1298,3.5) -- (1308,3.5) -- (1303,9) -- cycle;
\fill[markgrey] (5,773) -- (5,780) -- (11,780) -- cycle;
\end{scope}
\end{tikzpicture}
\end{document}
